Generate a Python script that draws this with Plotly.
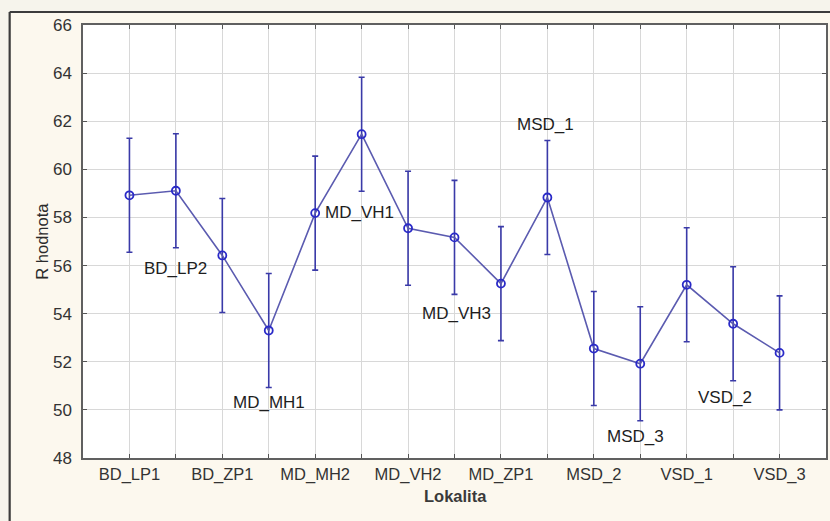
import plotly.graph_objects as go

# Sampling sites (Lokalita) and mean R values with their error ranges
sites = ["BD_LP1", "BD_LP2", "BD_ZP1", "MD_MH1", "MD_MH2", "MD_VH1", "MD_VH2",
         "MD_VH3", "MD_ZP1", "MSD_1", "MSD_2", "MSD_3", "VSD_1", "VSD_2", "VSD_3"]
r_mean = [58.92, 59.11, 56.42, 53.30, 58.18, 61.46, 57.55, 57.17, 55.25,
          58.83, 52.55, 51.92, 55.20, 53.58, 52.37]
r_err = [2.37, 2.37, 2.37, 2.37, 2.37, 2.37, 2.37, 2.37, 2.37,
         2.37, 2.37, 2.37, 2.37, 2.37, 2.37]

# Every other site is named on the axis; the rest get a label in the plot
axis_sites = sites[0::2]
inner_labels = ["BD_LP2", "MD_MH1", "MD_VH1", "MD_VH3", "MSD_1", "MSD_3", "VSD_2"]
inner_label_y = [55.88, 50.30, 58.20, 54.00, 61.88, 48.90, 50.50]
inner_label_dx = [0.0, 0.0, -0.05, 0.05, -0.03, -0.1, -0.18]

x_idx = list(range(len(sites)))

fig = go.Figure()
fig.add_trace(go.Scatter(
    x=x_idx, y=r_mean,
    mode="lines+markers",
    line=dict(color="#5b5bb0", width=1.6),
    marker=dict(symbol="circle-open", size=8, color="#2a2ac8",
                line=dict(width=1.8, color="#2a2ac8")),
    error_y=dict(type="data", array=r_err, visible=True,
                 color="#3a3aa8", thickness=1.6, width=3),
    showlegend=False,
))

annotations = []
for name, yv, dx in zip(inner_labels, inner_label_y, inner_label_dx):
    annotations.append(dict(
        x=sites.index(name) + dx, y=yv, xref="x", yref="y", text=name,
        showarrow=False, font=dict(family="Arial", size=17, color="#1e1e1e"),
    ))

# Axis titles
annotations.append(dict(x=-0.0711, y=0.5, xref="paper", yref="paper",
                        text="R hodnota", textangle=-90, showarrow=False,
                        font=dict(family="Arial", size=16.5, color="#2a2a2a")))
annotations.append(dict(x=0.501, y=-0.113, xref="paper", yref="paper",
                        text="<b>Lokalita</b>", showarrow=False,
                        font=dict(family="Arial", size=16.5, color="#3a3a3a")))

frame_col = "#3c3c3c"
shapes = [
    # lighter strips outside the window frame
    dict(type="rect", xref="paper", yref="paper", x0=-0.115, x1=1.01,
         y0=1.030, y1=1.06, fillcolor="#f6f4ec", line=dict(width=0), layer="below"),
    dict(type="rect", xref="paper", yref="paper", x0=-0.115, x1=-0.0987,
         y0=-0.16, y1=1.06, fillcolor="#f6f4ec", line=dict(width=0), layer="below"),
    # window frame (top and left edges)
    dict(type="line", xref="paper", yref="paper", x0=-0.0987, x1=1.01,
         y0=1.030, y1=1.030, line=dict(color=frame_col, width=2.2)),
    dict(type="line", xref="paper", yref="paper", x0=-0.0987, x1=-0.0987,
         y0=-0.16, y1=1.030, line=dict(color=frame_col, width=2.2)),
]

fig.update_layout(
    width=830, height=521,
    margin=dict(l=83, r=2, t=25, b=63),
    paper_bgcolor="#fcf8ee",
    plot_bgcolor="#ffffff",
    font=dict(family="Arial", size=16, color="#333333"),
    annotations=annotations,
    shapes=shapes,
)

fig.update_xaxes(
    range=[-1, len(sites)],
    tickmode="array",
    tickvals=x_idx,
    ticktext=[s if s in axis_sites else "" for s in sites],
    ticks="inside", ticklen=4, tickcolor="#555555", tickwidth=1,
    showgrid=True, gridcolor="#d8d8d8", gridwidth=1,
    showline=True, linecolor="#606060", linewidth=1.5, mirror="ticks",
    zeroline=False,
    tickfont=dict(family="Arial", size=16.5, color="#333333"),
)
fig.update_yaxes(
    range=[48, 66], dtick=2, tick0=48,
    ticks="inside", ticklen=4, tickcolor="#555555", tickwidth=1,
    showgrid=True, gridcolor="#d8d8d8", gridwidth=1,
    showline=True, linecolor="#606060", linewidth=1.5, mirror="ticks",
    zeroline=False,
    ticklabelstandoff=6,
    tickfont=dict(family="Arial", size=17, color="#333333"),
)

fig.write_html("out.html")
